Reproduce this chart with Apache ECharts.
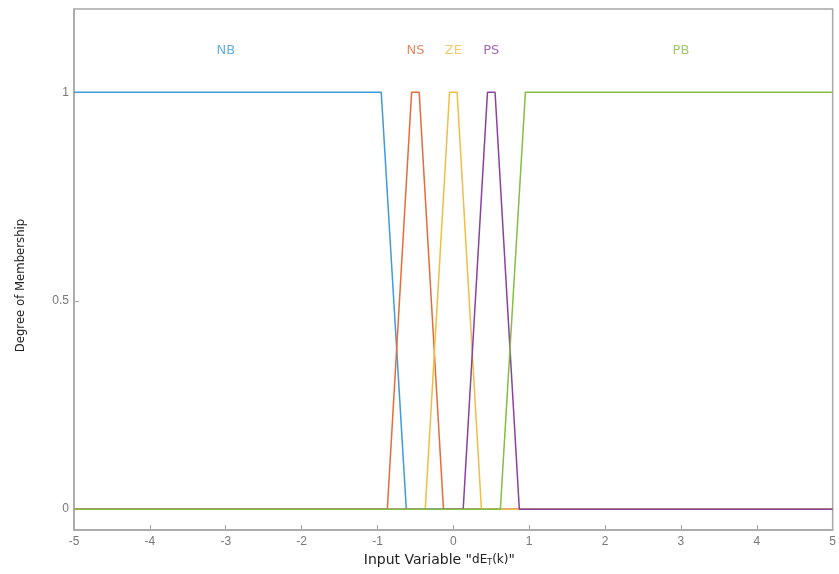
<!DOCTYPE html>
<html>
<head>
<meta charset="utf-8">
<script src="https://cdn.jsdelivr.net/npm/echarts@6.0.0/dist/echarts.min.js"></script>
<style>
  html, body { margin: 0; padding: 0; background: #fff; }
  #chart { width: 839px; height: 574px; }
</style>
</head>
<body>
<div id="chart"></div>
<script>
// Membership function breakpoints
const setNames = ['NB', 'NS', 'ZE', 'PS', 'PB'];
const nbX = [-5, -0.95, -0.62, 5];
const nbY = [1, 1, 0, 0];
const nsX = [-5, -0.87, -0.55, -0.45, -0.13, 5];
const nsY = [0, 0, 1, 1, 0, 0];
const zeX = [-5, -0.37, -0.05, 0.05, 0.37, 5];
const zeY = [0, 0, 1, 1, 0, 0];
const psX = [-5, 0.13, 0.45, 0.55, 0.87, 5];
const psY = [0, 0, 1, 1, 0, 0];
const pbX = [-5, 0.62, 0.95, 5];
const pbY = [0, 0, 1, 1];

// Positions of the set names above the curves
const labelX = [-3, -0.5, 0, 0.5, 3];
const labelY = [1.1, 1.1, 1.1, 1.1, 1.1];

const yTicks = [0, 0.5, 1];

const colors = ['#3f9bd9', '#e46c3a', '#f0bd45', '#8a42a0', '#86bd44'];

const chart = echarts.init(document.getElementById('chart'));

const curves = [[nbX, nbY], [nsX, nsY], [zeX, zeY], [psX, psY], [pbX, pbY]];

const lineSeries = curves.map((c, i) => ({
    name: setNames[i],
    type: 'line',
    data: c[0].map((x, j) => [x, c[1][j]]),
    symbol: 'none',
    lineStyle: { color: colors[i], width: 1.5 },
    animation: false
}));

const labelSeries = {
    type: 'scatter',
    symbolSize: 0,
    silent: true,
    animation: false,
    data: setNames.map((n, i) => ({
        name: n,
        value: [labelX[i], labelY[i]],
        label: { color: colors[i] }
    })),
    label: {
        show: true,
        position: 'inside',
        formatter: '{b}',
        fontFamily: 'DejaVu Sans',
        fontSize: 13
    }
};

chart.setOption({
    animation: false,
    grid: {
        left: 74, right: 6, top: 9, bottom: 44,
        show: true, borderColor: '#a8a8a8', borderWidth: 1.5
    },
    xAxis: {
        type: 'value',
        min: -5, max: 5, interval: 1,
        name: 'Input Variable "{s|dE}{sub|T}{s|(k)}"',
        nameLocation: 'middle',
        nameGap: 22,
        nameTextStyle: {
            fontFamily: 'DejaVu Sans', fontSize: 14, color: '#222',
            padding: [0, 28, 0, 0],
            rich: {
                s: { fontFamily: 'DejaVu Sans', fontSize: 12, color: '#222' },
                sub: { fontFamily: 'DejaVu Sans', fontSize: 8, color: '#222', verticalAlign: 'bottom', padding: [6, 0, 0, 0] }
            }
        },
        axisLine: { show: true, onZero: false, lineStyle: { color: '#a8a8a8', width: 1.5 } },
        axisTick: { show: true, inside: true, length: 5, lineStyle: { color: '#a8a8a8' } },
        axisLabel: { color: '#777', fontFamily: 'Liberation Sans', fontSize: 12, margin: 6 },
        splitLine: { show: false }
    },
    yAxis: {
        type: 'value',
        min: -0.05, max: 1.2,
        name: 'Degree of Membership',
        nameLocation: 'middle',
        nameGap: 47,
        nameTextStyle: {
            fontFamily: 'DejaVu Sans Condensed', fontSize: 13, color: '#222',
            padding: [0, 32, 0, 0]
        },
        axisLine: { show: true, onZero: false, lineStyle: { color: '#a8a8a8', width: 1.5 } },
        axisTick: { show: true, inside: true, length: 5, customValues: yTicks, lineStyle: { color: '#a8a8a8' } },
        axisLabel: { color: '#777', fontFamily: 'Liberation Sans', fontSize: 12, margin: 5, customValues: yTicks },
        splitLine: { show: false }
    },
    series: lineSeries.concat([labelSeries])
});
</script>
</body>
</html>
